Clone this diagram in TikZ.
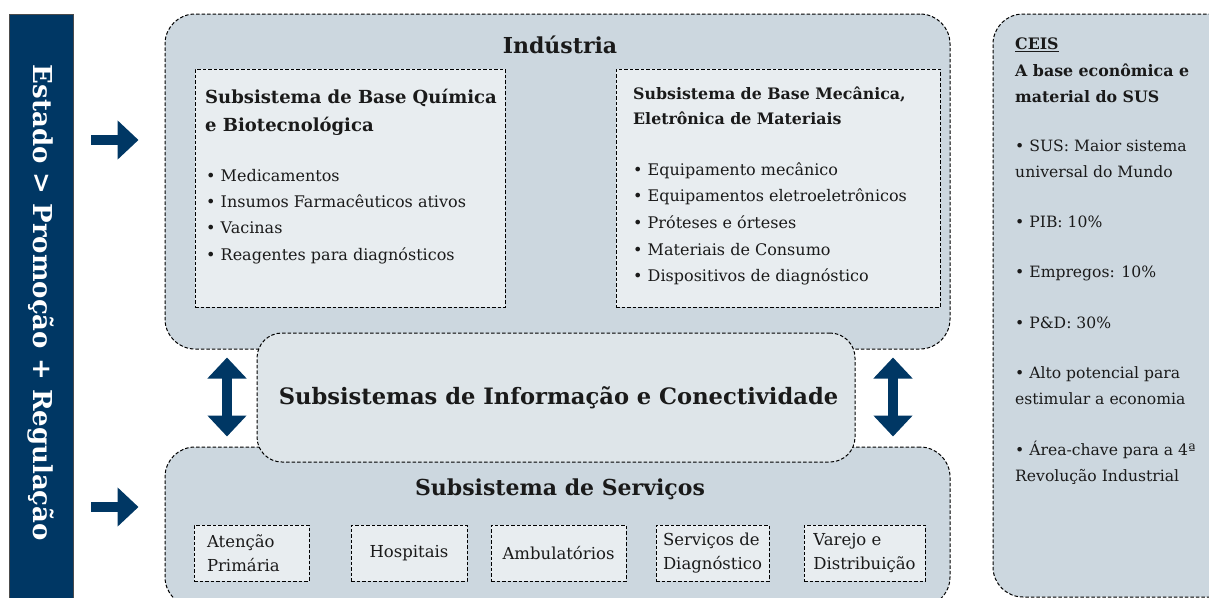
\documentclass[tikz,border=0pt]{standalone}
\usepackage{fontspec}
\setmainfont{DejaVu Serif}
\usepackage{xcolor}
\usetikzlibrary{positioning,arrows.meta,calc}
\definecolor{ceNavy}{HTML}{003764}
\definecolor{ceBox}{HTML}{CCD7DF}
\definecolor{ceMid}{HTML}{DEE5E9}
\definecolor{ceLight}{HTML}{E8EDF0}
\definecolor{ceText}{HTML}{1A1A1A}
\tikzset{
  dashline/.style={draw=black, line width=1pt, dash pattern=on 3.5pt off 2pt},
  bigbox/.style={dashline, rounded corners=30pt, fill=ceBox, inner sep=0pt},
  midbox/.style={dashline, rounded corners=25pt, fill=ceMid, inner sep=0pt, align=center, text=ceText},
  subbox/.style={dashline, fill=ceLight, inner sep=0pt},
  svcbox/.style={dashline, fill=ceLight, inner sep=0pt, align=left, text=ceText, font=\fontsize{16.5}{24}\selectfont},
  ttl/.style={font=\fontsize{22}{26}\selectfont\bfseries, text=ceText},
  subttl/.style={font=\fontsize{18}{28}\selectfont\bfseries, text=ceText, align=left, anchor=north west, inner sep=0pt},
  items/.style={font=\fontsize{16}{26.3}\selectfont, text=ceText, align=left, anchor=north west, inner sep=0pt},
  bigarr/.style={-{Triangle[length=21pt,width=38pt]}, line width=10pt, ceNavy},
  dblarr/.style={{Triangle[length=21pt,width=38pt]}-{Triangle[length=21pt,width=38pt]}, line width=10pt, ceNavy},
}
\begin{document}
\begin{tikzpicture}[x=1pt,y=-1pt]
  \useasboundingbox (0,0) rectangle (1209,597);
  \clip (0,0) rectangle (1209,597);
  % state bar
  \node[draw=black!70, fill=ceNavy, minimum width=64pt, minimum height=590pt, inner sep=0pt] (estado) at (41,309) {};
  \node[rotate=-90, text=white, font=\fontsize{26}{30}\selectfont\bfseries] (estadotxt) at (41,303) {Estado > Promoção + Regulação};
  % industria
  \node[bigbox, minimum width=785pt, minimum height=335pt] (industria) at (557.5,181.5) {};
  \node[ttl] (industriattl) at (560,45) {Indústria};
  \node[subbox, minimum width=310pt, minimum height=238pt] (quimica) at (350,188) {};
  \node[subttl] (quimicattl) at (205,89) {Subsistema de Base Química\\e Biotecnológica};
  \node[items] (quimicalst) at (206,169) {• Medicamentos\\• Insumos Farmacêuticos ativos\\• Vacinas\\• Reagentes para diagnósticos};
  \node[subbox, minimum width=324pt, minimum height=238pt] (mecanica) at (778,188) {};
  \node[subttl, font=\fontsize{15.8}{25}\selectfont\bfseries] (mecanicattl) at (633,87) {Subsistema de Base Mecânica,\\Eletrônica de Materiais};
  \node[items, font=\fontsize{16}{26.7}\selectfont] (mecanicalst) at (633,162) {• Equipamento mecânico\\• Equipamentos eletroeletrônicos\\• Próteses e órteses\\• Materiais de Consumo\\• Dispositivos de diagnóstico};
  % servicos
  \node[bigbox, minimum width=785pt, minimum height=160pt] (servicos) at (557.5,527) {};
  \node[ttl] (servicosttl) at (560,489) {Subsistema de Serviços};
  \node[svcbox, minimum width=115pt, minimum height=56pt, text width=89pt] (atencao) at (251.5,553) {Atenção\\Primária};
  \node[svcbox, minimum width=116pt, minimum height=56pt] (hospitais) at (409,553) {Hospitais};
  \node[svcbox, minimum width=135pt, minimum height=56pt] (ambulat) at (558.5,553) {Ambulatórios};
  \node[svcbox, minimum width=113pt, minimum height=56pt] (diagnostico) at (712.5,553) {Serviços de\\Diagnóstico};
  \node[svcbox, minimum width=121pt, minimum height=56pt] (varejo) at (864.5,553) {Varejo e\\Distribuição};
  % informacao
  \node[midbox, minimum width=598pt, minimum height=129pt, font=\fontsize{22.6}{26}\selectfont\bfseries] (informacao) at (556,397.5) {\hspace*{5pt}Subsistemas de Informação e Conectividade};
  % ceis
  \node[bigbox, minimum width=260pt, minimum height=583pt] (ceis) at (1123,305.5) {};
  \node[items, font=\fontsize{15.8}{26.5}\selectfont\bfseries] (ceisttl) at (1015,38) {\underline{CEIS}\\A base econômica e\\material do SUS};
  \node[items, font=\fontsize{15.6}{26}\selectfont] (ceislst) at (1015,140) {• SUS: Maior sistema\\universal do Mundo\\[24pt]• PIB: 10\%\\[24pt]• Empregos: 10\%\\[25pt]• P\&D: 30\%\\[24pt]• Alto potencial para\\estimular a economia\\[25pt]• Área-chave para a 4ª\\Revolução Industrial};
  % arrows
  \draw[bigarr, shorten <=18pt, shorten >=26pt] (estado.east |- 0,140) -- (industria.west |- 0,140);
  \draw[bigarr, shorten <=18pt, shorten >=26pt] (estado.east |- 0,507) -- (servicos.west |- 0,507);
  \draw[dblarr, shorten <=8pt, shorten >=10pt] (industria.south -| 227,0) -- (servicos.north -| 227,0);
  \draw[dblarr, shorten <=8pt, shorten >=10pt] (industria.south -| 893,0) -- (servicos.north -| 893,0);
\end{tikzpicture}
\end{document}
